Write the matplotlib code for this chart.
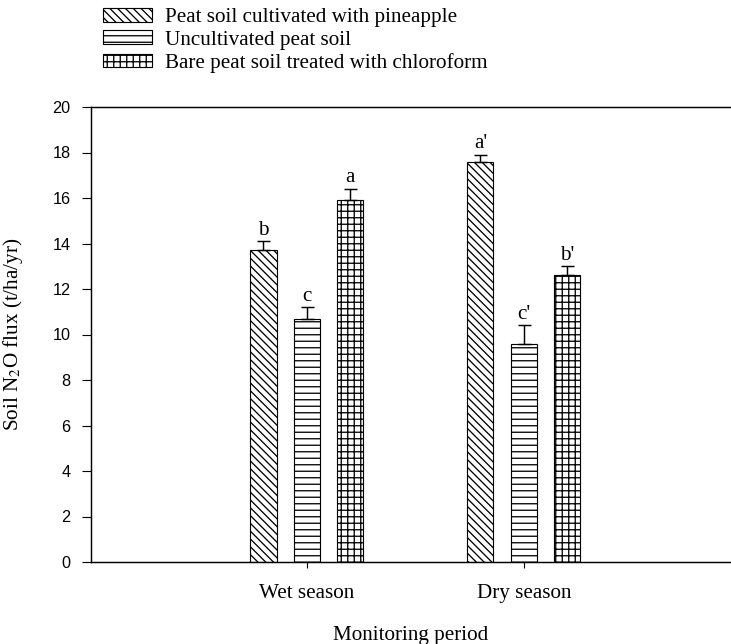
import matplotlib
matplotlib.use('Agg')
import matplotlib.pyplot as plt
import numpy as np

# Data
periods = ['Wet season', 'Dry season']
treatments = ['Peat soil cultivated with pineapple',
              'Uncultivated peat soil',
              'Bare peat soil treated with chloroform']
cultivated = [13.7, 17.6]
uncultivated = [10.7, 9.6]
chloroform = [15.9, 12.6]
cultivated_err = [0.4, 0.3]
uncultivated_err = [0.5, 0.8]
chloroform_err = [0.5, 0.4]
cultivated_letters = ['b', "a'"]
uncultivated_letters = ['c', "c'"]
chloroform_letters = ['a', "b'"]

DPI = 117
plt.rcParams['mathtext.fontset'] = 'stix'
plt.rcParams['hatch.linewidth'] = 0.8
serif = ['Liberation Serif', 'DejaVu Serif']
sans = ['Liberation Sans', 'DejaVu Sans']

fig = plt.figure(figsize=(731 / DPI, 644 / DPI), dpi=DPI)
ax = fig.add_axes([91 / 731, 82 / 644, 639 / 731, 455 / 644])

x = np.arange(1, len(periods) + 1)
width = 0.12
offset = 0.2
series = [
    (cultivated, cultivated_err, cultivated_letters, '\\' * 5),
    (uncultivated, uncultivated_err, uncultivated_letters, '---'),
    (chloroform, chloroform_err, chloroform_letters, '+++'),
]

handles = []
for i, (vals, errs, letters, hatch) in enumerate(series):
    pos = x + (i - 1) * offset
    bars = ax.bar(pos, vals, width, color='white', edgecolor='black',
                  linewidth=0.7, hatch=hatch, zorder=2)
    handles.append(bars)
    ax.errorbar(pos, vals, yerr=[np.zeros(len(errs)), errs], fmt='none',
                ecolor='black', elinewidth=0.9, capsize=4, capthick=0.9,
                zorder=3)
    for p, v, e, lab in zip(pos, vals, errs, letters):
        ax.annotate(lab, (p, v + e), xytext=(0, 1), textcoords='offset points',
                    ha='center', va='bottom', fontsize=13, family=serif)

ax.set_xlim(0.005, 2.95)
ax.set_ylim(0, 20)
ax.set_yticks(np.arange(0, 21, 2))
ax.set_xticks(x)
ax.set_xticklabels(periods, fontsize=13, family=serif)
for t in ax.get_yticklabels():
    t.set_family(sans)
    t.set_fontsize(10)
ax.tick_params(axis='y', direction='out', length=5.5, width=0.7, pad=7)
ax.tick_params(axis='x', direction='out', length=3.7, width=0.7, pad=10)
ax.spines['right'].set_visible(False)
for s in ['left', 'bottom', 'top']:
    ax.spines[s].set_linewidth(0.9)

ax.set_xlabel('Monitoring period', fontsize=13, family=serif, labelpad=14)
ax.set_ylabel(r'Soil N$_2$O flux (t/ha/yr)', fontsize=13, family=serif)
ax.yaxis.set_label_coords(-66 / 639, 0.5)

fig.legend(handles, treatments, loc='upper left',
           bbox_to_anchor=(103 / 731, 1 - 8 / 644), frameon=False,
           prop={'family': serif, 'size': 13},
           handlelength=2.3, handleheight=0.62, handletextpad=0.62,
           labelspacing=0.15, borderpad=0, borderaxespad=0)

fig.savefig('out.png', dpi=DPI)
